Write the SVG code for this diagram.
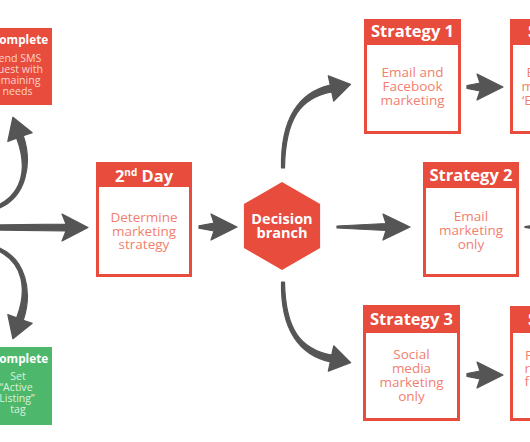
<svg xmlns="http://www.w3.org/2000/svg" width="530" height="442" viewBox="0 0 530 442">
<style>
.red{fill:#e84c3d}
.green{fill:#4db86b}
.white{fill:#ffffff}
.hdr{font-family:"Open Sans","Liberation Sans",sans-serif;font-weight:bold;fill:#ffffff;text-anchor:middle}
.h16{font-size:16.5px}
.h14{font-size:14.5px}
.h12{font-size:11.8px}
.body{font-family:"Open Sans","Liberation Sans",sans-serif;font-size:13.5px;fill:#f2806f;text-anchor:middle}
.sm{font-family:"Open Sans","Liberation Sans",sans-serif;font-size:10.6px;text-anchor:middle}
.pink{fill:#fcd3cb}
.lgreen{fill:#d8f1de}
.cut{text-anchor:start}
.arrow{fill:#555555;stroke:#555555;stroke-width:1.2;stroke-linejoin:round}
</style>
<rect width="530" height="442" fill="#ffffff"/>

<g id="connectors">
  <path class="arrow" d="M -2.6,205.6 C 24,192.7 27.2,166 16.7,138.2 L 7.8,141.4 L 12.9,117.2 L 32.2,132.6 L 23.3,135.8 C 32.8,164 26,197.3 -1.4,208.4 Z"/>
  <path class="arrow" d="M -2.6,250.4 C 24,263.3 27.2,290 16.7,317.8 L 7.8,314.6 L 12.9,338.8 L 32.2,323.4 L 23.3,320.2 C 32.8,292 26,258.7 -1.4,247.6 Z"/>
  <path class="arrow" d="M -2,225 L 66,224 L 62,214 L 88,227.5 L 62,241 L 66,231 L -2,230 Z"/>
  <path class="arrow" d="M 199,225.8 L 214,223 L 211,214 L 237,227 L 211,240 L 214,231 L 199,228.2 Z"/>
  <path class="arrow" d="M 281.5,168 C 280.5,118 299.4,92.1 330.3,85.1 L 328.3,75.8 L 350.5,84.4 L 333.7,101.2 L 331.7,91.9 C 300.6,97.9 285.5,118 284.5,168 Z"/>
  <path class="arrow" d="M 281.5,282 C 280.5,330 299.4,354.9 330.3,361.9 L 328.3,371.2 L 350.6,362.6 L 333.7,345.8 L 331.7,355.1 C 300.6,349.1 285.5,330 284.5,282 Z"/>
  <path class="arrow" d="M 337,226 L 386,223.5 L 383,214 L 410,227 L 383,240 L 386,230.5 L 337,228 Z"/>
  <path class="arrow" d="M 467,85.5 L 480,83 L 477,74 L 503,87 L 477,100 L 480,91 L 467,88.5 Z"/>
  <path class="arrow" d="M 467,373.5 L 480,371 L 477,362 L 503,375 L 477,388 L 480,379 L 467,376.5 Z"/>
  <path class="arrow" d="M 525,226.6 L 532,225.5 L 532,228.5 L 525,227.4 Z"/>
</g>

<g id="node-complete-sms">
  <rect class="red" x="-20" y="28" width="72" height="77"/>
  <text class="hdr h12" x="20" y="44">Complete</text>
  <text class="sm pink" x="17" y="62">Send SMS</text>
  <text class="sm pink" x="12" y="73">request with</text>
  <text class="sm pink" x="15.5" y="84">remaining</text>
  <text class="sm pink" x="17.5" y="94.5">needs</text>
</g>

<g id="node-complete-tag">
  <rect class="green" x="-20" y="347" width="72" height="78"/>
  <text class="hdr h12" x="20" y="363">Complete</text>
  <text class="sm lgreen" x="18" y="380">Set</text>
  <text class="sm lgreen" x="16" y="391">“Active</text>
  <text class="sm lgreen" x="17" y="402">Listing”</text>
  <text class="sm lgreen" x="18" y="412.5">tag</text>
</g>

<g id="node-2nd-day">
  <rect class="red" x="96" y="162" width="96" height="115"/>
  <rect class="white" x="99" y="187" width="90" height="87"/>
  <text class="hdr h16" x="144" y="182">2<tspan font-size="10" dy="-6">nd</tspan><tspan dy="6"> Day</tspan></text>
  <text class="body" x="144" y="222">Determine</text>
  <text class="body" x="144" y="235.5">marketing</text>
  <text class="body" x="144" y="249">strategy</text>
</g>

<g id="node-decision">
  <polygon class="red" points="282,182 320.1,204 320.1,248 282,270 243.9,248 243.9,204"/>
  <text class="hdr h14" x="282" y="224">Decision</text>
  <text class="hdr h14" x="282" y="238">branch</text>
</g>

<g id="node-strategy-1">
  <rect class="red" x="364" y="19" width="97" height="115"/>
  <rect class="white" x="367" y="45" width="91" height="86"/>
  <text class="hdr h16" x="412.5" y="37">Strategy 1</text>
  <text class="body" x="412.5" y="76.5">Email and</text>
  <text class="body" x="412.5" y="90.5">Facebook</text>
  <text class="body" x="412.5" y="104.5">marketing</text>
</g>

<g id="node-strategy-2">
  <rect class="red" x="423" y="162" width="96" height="115"/>
  <rect class="white" x="426" y="188" width="90" height="86"/>
  <text class="hdr h16" x="471" y="181">Strategy 2</text>
  <text class="body" x="471" y="221">Email</text>
  <text class="body" x="471" y="235">marketing</text>
  <text class="body" x="471" y="249">only</text>
</g>

<g id="node-strategy-3">
  <rect class="red" x="363" y="305" width="97" height="116"/>
  <rect class="white" x="366" y="333" width="91" height="85"/>
  <text class="hdr h16" x="411.5" y="325">Strategy 3</text>
  <text class="body" x="411.5" y="359">Social</text>
  <text class="body" x="411.5" y="373">media</text>
  <text class="body" x="411.5" y="387">marketing</text>
  <text class="body" x="411.5" y="401">only</text>
</g>

<g id="node-next-1">
  <rect class="red" x="510" y="19" width="40" height="115"/>
  <rect class="white" x="513" y="45" width="40" height="86"/>
  <text class="hdr h16 cut" x="528" y="37">S</text>
  <text class="body cut" x="526.5" y="76.5">E</text>
  <text class="body cut" x="521.5" y="90.5">m</text>
  <text class="body cut" x="522" y="104.5">‘E</text>
</g>

<g id="node-next-3">
  <rect class="red" x="510" y="306" width="40" height="115"/>
  <rect class="white" x="513" y="333" width="40" height="85"/>
  <text class="hdr h16 cut" x="528" y="325">S</text>
  <text class="body cut" x="525" y="360">F</text>
  <text class="body cut" x="524.5" y="373">r</text>
  <text class="body cut" x="524.5" y="386">f</text>
</g>
</svg>
